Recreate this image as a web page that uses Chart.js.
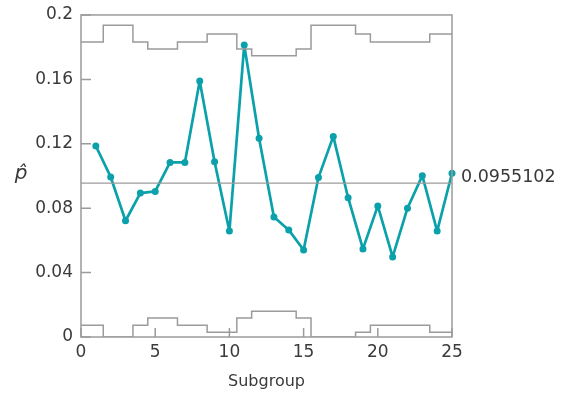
<!DOCTYPE html>
<html>
<head>
<meta charset="utf-8">
<script src="https://cdn.jsdelivr.net/npm/chart.js@4.4.1/dist/chart.umd.min.js"></script>
<style>
  html, body { margin: 0; padding: 0; background: #fff; }
  #wrap { width: 569px; height: 393px; }
</style>
</head>
<body>
<div id="wrap"><canvas id="pChart" width="569" height="393"></canvas></div>
<script>
// subgroup numbers and fraction nonconforming
var subgroups = [1, 2, 3, 4, 5, 6, 7, 8, 9, 10, 11, 12, 13, 14, 15, 16, 17, 18, 19, 20, 21, 22, 23, 24, 25];
var pHat = [0.1186, 0.0994, 0.0722, 0.0894, 0.0904, 0.1084, 0.1084, 0.1590, 0.1088, 0.0658,
            0.1814, 0.1234, 0.0745, 0.0665, 0.0540, 0.0990, 0.1246, 0.0865, 0.0547, 0.0814,
            0.0497, 0.0800, 0.1002, 0.0658, 0.1017];
var centerLine = 0.0955102;
// variable control limits (one per subgroup)
var ucl = [0.1832, 0.1936, 0.1936, 0.1832, 0.1788, 0.1788, 0.1832, 0.1832, 0.1882, 0.1882,
           0.1788, 0.1747, 0.1747, 0.1747, 0.1788, 0.1936, 0.1936, 0.1936, 0.1882, 0.1832,
           0.1832, 0.1832, 0.1832, 0.1882, 0.1882];
var lcl = [0.0073, 0, 0, 0.0073, 0.0118, 0.0118, 0.0073, 0.0073, 0.0030, 0.0030,
           0.0118, 0.0160, 0.0160, 0.0160, 0.0118, 0, 0, 0, 0.0030, 0.0073,
           0.0073, 0.0073, 0.0073, 0.0030, 0.0030];
var xTicks = [0, 5, 10, 15, 20, 25];
var yTicks = [0, 0.04, 0.08, 0.12, 0.16, 0.2];

var teal = '#0aa1ab';
var gray = '#9b9b9b';
var txt = '#3a3a3a';
var fontFam = "'DejaVu Sans', sans-serif";

function stepData(lim) {
  var pts = [{x: xTicks[0], y: lim[0]}];
  subgroups.forEach(function(s, i){ pts.push({x: s, y: lim[i]}); });
  return pts;
}

var extras = {
  id: 'extras',
  afterDraw: function(chart){
    var ctx = chart.ctx, a = chart.chartArea;
    var xs = chart.scales.x, ys = chart.scales.y;
    ctx.save();
    ctx.strokeStyle = gray;
    ctx.lineWidth = 1.5;
    ctx.strokeRect(a.left, a.top, a.right - a.left, a.bottom - a.top);
    // inward ticks
    ctx.beginPath();
    yTicks.forEach(function(v){
      var y = ys.getPixelForValue(v);
      ctx.moveTo(a.left, y); ctx.lineTo(a.left + 10, y);
    });
    xTicks.forEach(function(v){
      var x = xs.getPixelForValue(v);
      ctx.moveTo(x, a.bottom); ctx.lineTo(x, a.bottom - 9);
    });
    ctx.stroke();
    // center line value
    ctx.fillStyle = txt;
    ctx.font = '17.5px ' + fontFam;
    ctx.textAlign = 'left';
    ctx.textBaseline = 'middle';
    ctx.fillText(String(centerLine), a.right + 9, ys.getPixelForValue(centerLine) - 6);
    // y axis label
    ctx.font = 'italic 20px ' + fontFam;
    ctx.textAlign = 'center';
    ctx.fillText('p\u0302', 21, ys.getPixelForValue(0.1) - 2);
    ctx.restore();
  }
};

var config = {
  type: 'line',
  data: {
    datasets: [
      {
        label: 'UCL',
        data: stepData(ucl),
        stepped: 'middle',
        borderColor: gray,
        borderWidth: 1.5,
        pointRadius: 0,
        fill: false
      },
      {
        label: 'LCL',
        data: stepData(lcl),
        stepped: 'middle',
        borderColor: gray,
        borderWidth: 1.5,
        pointRadius: 0,
        fill: false
      },
      {
        label: 'CL',
        data: [{x: xTicks[0], y: centerLine}, {x: xTicks[xTicks.length - 1], y: centerLine}],
        borderColor: gray,
        borderWidth: 1.2,
        pointRadius: 0,
        fill: false
      },
      {
        label: 'p',
        data: subgroups.map(function(s, i){ return {x: s, y: pHat[i]}; }),
        borderColor: teal,
        backgroundColor: teal,
        borderWidth: 2.7,
        borderJoinStyle: 'round',
        pointRadius: 3.5,
        pointBorderWidth: 0,
        tension: 0,
        clip: false
      }
    ]
  },
  options: {
    responsive: false,
    animation: false,
    layout: { padding: { left: 0, top: 10, right: 117, bottom: 0 } },
    plugins: { legend: { display: false }, tooltip: { enabled: false } },
    scales: {
      x: {
        type: 'linear',
        min: 0, max: 25,
        afterFit: function(s){ s.height = 56; },
        grid: { display: false, drawTicks: false },
        border: { display: false },
        ticks: {
          stepSize: 5, padding: 5, color: txt,
          font: { family: fontFam, size: 17 },
          maxRotation: 0
        },
        title: {
          display: true, text: 'Subgroup', color: txt,
          font: { family: fontFam, size: 16 },
          padding: { top: 0, bottom: 2 }
        }
      },
      y: {
        type: 'linear',
        min: 0, max: 0.2,
        afterFit: function(s){ s.width = 81; },
        grid: { display: false, drawTicks: false },
        border: { display: false },
        ticks: {
          stepSize: 0.04, padding: 8, color: txt,
          font: { family: fontFam, size: 17, lineHeight: 0.82 },
          callback: function(v){ return String(parseFloat(v.toFixed(2))); }
        }
      }
    }
  },
  plugins: [extras]
};

var ctxP = document.getElementById('pChart').getContext('2d');
window.pChart = new Chart(ctxP, config);
</script>
</body>
</html>
